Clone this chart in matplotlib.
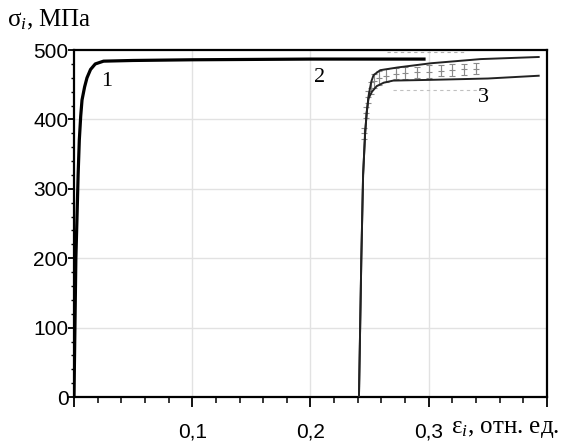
import numpy as np
import matplotlib.pyplot as plt
from matplotlib.ticker import MultipleLocator, FuncFormatter

plt.rcParams['mathtext.fontset'] = 'custom'
plt.rcParams['mathtext.it'] = 'Liberation Serif:italic'
plt.rcParams['mathtext.rm'] = 'Liberation Serif'

# curve 1 - initial loading
eps1 = [0.0, 0.0008, 0.0016, 0.0025, 0.0035, 0.0045, 0.0057, 0.0068, 0.009, 0.011,
        0.014, 0.018, 0.025, 0.05, 0.1, 0.2, 0.296]
sig1 = [0, 100, 200, 255, 320, 370, 405, 428, 447, 460, 472, 480, 484, 485, 486, 487, 487]

# curve 2 - upper branch after reloading
eps2 = [0.241, 0.242, 0.243, 0.2445, 0.2462, 0.2475, 0.249, 0.2502, 0.2515, 0.2534,
        0.259, 0.274, 0.302, 0.344, 0.393]
sig2 = [0, 100, 200, 320, 380, 409, 432, 444, 455, 464, 471, 475, 481, 487, 490]

# curve 3 - lower branch after reloading
eps3 = [0.241, 0.242, 0.243, 0.2445, 0.2462, 0.2475, 0.249, 0.252, 0.256, 0.262,
        0.27, 0.3, 0.35, 0.393]
sig3 = [0, 100, 200, 320, 380, 409, 430, 440, 448, 453, 456, 457, 459, 463]

# experimental points with scatter
exp_eps = [0.245, 0.247, 0.249, 0.251, 0.254, 0.258, 0.264, 0.272, 0.28,
           0.29, 0.30, 0.31, 0.32, 0.33, 0.34]
exp_sig = [380, 410, 432, 445, 455, 460, 463, 466, 467, 468, 469, 470, 471, 472, 473]
exp_err = [8, 8, 9, 9, 10, 10, 9, 8, 9, 8, 9, 8, 9, 8, 8]

fig = plt.figure(figsize=(5.66, 4.43), dpi=100)
ax = fig.add_axes([0.1307, 0.1038, 0.8357, 0.7832])

# faint grid
for gx in [0.1, 0.2, 0.3]:
    ax.axvline(gx, color='#e2e2e2', lw=1.0, zorder=0)
for gy in [100, 200, 300, 400]:
    ax.axhline(gy, color='#e2e2e2', lw=1.0, zorder=0)

ax.errorbar(exp_eps, exp_sig, yerr=exp_err, fmt='+', color='#8a8a8a',
            ms=4, mew=0.8, elinewidth=0.8, capsize=2, zorder=2)
ax.plot([0.265, 0.33], [497, 497], color='#b0b0b0', lw=0.8, ls=(0, (3, 3)))
ax.plot([0.27, 0.35], [443, 443], color='#c0c0c0', lw=0.8, ls=(0, (3, 3)))

ax.plot(eps1, sig1, color='black', lw=2.3, zorder=3)
ax.plot(eps2, sig2, color='#222222', lw=1.4, zorder=3)
ax.plot(eps3, sig3, color='#222222', lw=1.4, zorder=3)

serif = 'Liberation Serif'
ax.text(0.028, 454, '1', fontsize=16, family=serif, ha='center', va='center')
ax.text(0.2076, 460, '2', fontsize=16, family=serif, ha='center', va='center')
ax.text(0.346, 431, '3', fontsize=16, family=serif, ha='center', va='center')

ax.set_xlim(0, 0.4)
ax.set_ylim(0, 500)
ax.xaxis.set_major_locator(MultipleLocator(0.1))
ax.xaxis.set_minor_locator(MultipleLocator(0.02))
ax.yaxis.set_major_locator(MultipleLocator(100))
ax.yaxis.set_minor_locator(MultipleLocator(20))

ax.xaxis.set_major_formatter(FuncFormatter(
    lambda v, p: '' if v < 0.05 or v > 0.35 else f'{v:.1f}'.replace('.', ',')))
ax.yaxis.set_major_formatter(FuncFormatter(lambda v, p: f'{v:.0f}'))

ax.tick_params(axis='x', which='major', length=7, width=1.3, pad=11,
               labelsize=15, direction='out')
ax.tick_params(axis='x', which='minor', length=4, width=1.1, direction='out')
ax.tick_params(axis='y', which='major', length=4, width=1.3, pad=0,
               labelsize=15, direction='out')
ax.tick_params(axis='y', which='minor', length=2, width=1.0, direction='out')
for lbl in ax.get_xticklabels() + ax.get_yticklabels():
    lbl.set_family('Liberation Sans')

for s in ax.spines.values():
    s.set_linewidth(1.6)

fig.text(0.012, 0.955, r'σ$_i$, МПа', fontsize=18, family=serif,
         ha='left', va='center')
fig.text(0.797, 0.032, r'ε$_i$, отн. ед.', fontsize=18, family=serif,
         ha='left', va='center')

fig.savefig('out.png', dpi=100)
